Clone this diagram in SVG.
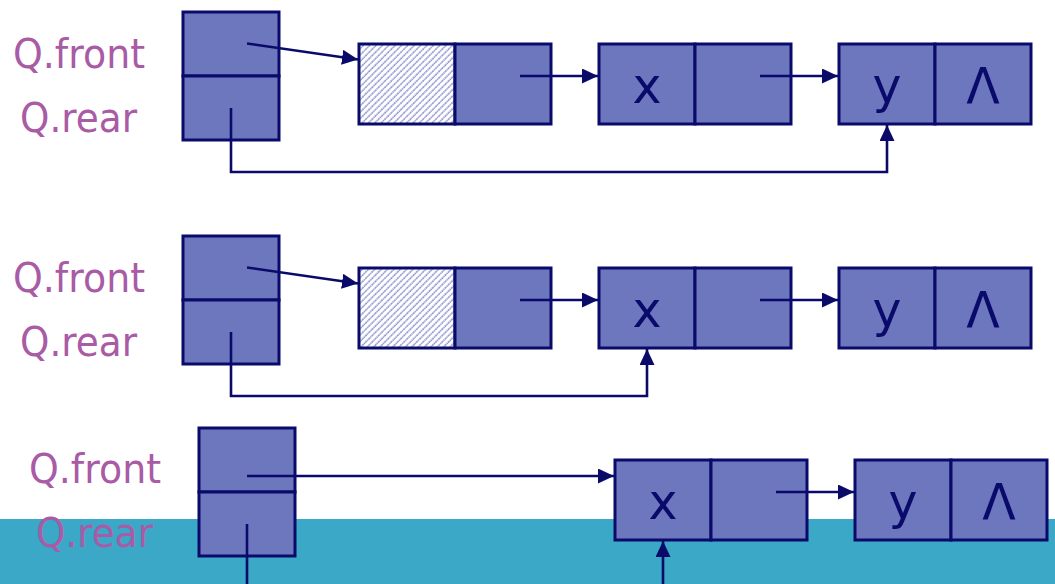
<svg xmlns="http://www.w3.org/2000/svg" width="1055" height="584" viewBox="0 0 1055 584">
  <defs>
    <style>
      .cell { fill: #6C77BE; stroke: #0A0A6B; stroke-width: 3; }
      .head { fill: url(#hatch); stroke: #0A0A6B; stroke-width: 3; }
      .link { fill: none; stroke: #0A0A6B; stroke-width: 2.6; }
      .lbl { font-family: "DejaVu Sans", Verdana, sans-serif; font-size: 40px; fill: #A95BA6; }
      .val { font-family: "DejaVu Sans", Verdana, sans-serif; font-size: 49px; fill: #0A0A6B; text-anchor: middle; }
    </style>
    <!-- diagonal dotted hatching for the header node's data cell -->
    <pattern id="hatch" patternUnits="userSpaceOnUse" width="4.5" height="4.5" patternTransform="rotate(45)">
      <rect width="4.5" height="4.5" fill="#FFFFFF"/>
      <line x1="1" y1="0" x2="1" y2="4.5" stroke="#7983C6" stroke-width="1.3" stroke-dasharray="1.8 0.45"/>
    </pattern>
    <marker id="arrow" markerUnits="userSpaceOnUse" markerWidth="18" markerHeight="16" refX="16" refY="7.5" orient="auto">
      <path d="M0,0 L16,7.5 L0,15 z" fill="#0A0A6B"/>
    </marker>
  </defs>

  <rect width="1055" height="584" fill="#FFFFFF"/>
  <!-- teal band along the bottom -->
  <rect x="0" y="519" width="1055" height="65" fill="#3AA8C6"/>

  <!-- pointer labels -->
  <g id="labels">
    <text class="lbl" x="13" y="68" textLength="132" lengthAdjust="spacingAndGlyphs">Q.front</text>
    <text class="lbl" x="20" y="132" textLength="117" lengthAdjust="spacingAndGlyphs">Q.rear</text>
    <text class="lbl" x="13" y="292" textLength="132" lengthAdjust="spacingAndGlyphs">Q.front</text>
    <text class="lbl" x="20" y="356" textLength="117" lengthAdjust="spacingAndGlyphs">Q.rear</text>
    <text class="lbl" x="29" y="483" textLength="132" lengthAdjust="spacingAndGlyphs">Q.front</text>
    <text class="lbl" x="36" y="547" textLength="117" lengthAdjust="spacingAndGlyphs">Q.rear</text>
  </g>

  <!-- state 1 -->
  <g id="q1">
    <rect class="cell" x="183" y="12" width="96" height="64"/>
    <rect class="cell" x="183" y="76" width="96" height="64"/>
  </g>
  <g id="n1-head">
    <rect class="head" x="359" y="44" width="96" height="80"/>
    <rect class="cell" x="455" y="44" width="96" height="80"/>
  </g>
  <g id="n1-x">
    <rect class="cell" x="599" y="44" width="96" height="80"/>
    <rect class="cell" x="695" y="44" width="96" height="80"/>
    <text class="val" x="647" y="103">x</text>
  </g>
  <g id="n1-y">
    <rect class="cell" x="839" y="44" width="96" height="80"/>
    <rect class="cell" x="935" y="44" width="96" height="80"/>
    <text class="val" x="887" y="103">y</text>
    <text class="val" x="983" y="103">Λ</text>
  </g>

  <!-- state 2 -->
  <g id="q2">
    <rect class="cell" x="183" y="236" width="96" height="64"/>
    <rect class="cell" x="183" y="300" width="96" height="64"/>
  </g>
  <g id="n2-head">
    <rect class="head" x="359" y="268" width="96" height="80"/>
    <rect class="cell" x="455" y="268" width="96" height="80"/>
  </g>
  <g id="n2-x">
    <rect class="cell" x="599" y="268" width="96" height="80"/>
    <rect class="cell" x="695" y="268" width="96" height="80"/>
    <text class="val" x="647" y="327">x</text>
  </g>
  <g id="n2-y">
    <rect class="cell" x="839" y="268" width="96" height="80"/>
    <rect class="cell" x="935" y="268" width="96" height="80"/>
    <text class="val" x="887" y="327">y</text>
    <text class="val" x="983" y="327">Λ</text>
  </g>

  <!-- state 3 -->
  <g id="q3">
    <rect class="cell" x="199" y="428" width="96" height="64"/>
    <rect class="cell" x="199" y="492" width="96" height="64"/>
  </g>
  <g id="n3-x">
    <rect class="cell" x="615" y="460" width="96" height="80"/>
    <rect class="cell" x="711" y="460" width="96" height="80"/>
    <text class="val" x="663" y="519">x</text>
  </g>
  <g id="n3-y">
    <rect class="cell" x="855" y="460" width="96" height="80"/>
    <rect class="cell" x="951" y="460" width="96" height="80"/>
    <text class="val" x="903" y="519">y</text>
    <text class="val" x="999" y="519">Λ</text>
  </g>

  <!-- connectors -->
  <g id="connectors">
    <line class="link" x1="247" y1="43.5" x2="358" y2="59.5" marker-end="url(#arrow)"/>
    <line class="link" x1="520" y1="76" x2="598" y2="76" marker-end="url(#arrow)"/>
    <line class="link" x1="760" y1="76" x2="838" y2="76" marker-end="url(#arrow)"/>
    <polyline class="link" points="231,108 231,172 887,172 887,125" marker-end="url(#arrow)"/>

    <line class="link" x1="247" y1="267.5" x2="358" y2="283.5" marker-end="url(#arrow)"/>
    <line class="link" x1="520" y1="300" x2="598" y2="300" marker-end="url(#arrow)"/>
    <line class="link" x1="760" y1="300" x2="838" y2="300" marker-end="url(#arrow)"/>
    <polyline class="link" points="231,332 231,396 647,396 647,349" marker-end="url(#arrow)"/>

    <line class="link" x1="247" y1="476" x2="614" y2="476" marker-end="url(#arrow)"/>
    <line class="link" x1="776" y1="492" x2="854" y2="492" marker-end="url(#arrow)"/>
    <line class="link" x1="247" y1="524" x2="247" y2="584"/>
    <line class="link" x1="663" y1="584" x2="663" y2="541" marker-end="url(#arrow)"/>
  </g>
</svg>
